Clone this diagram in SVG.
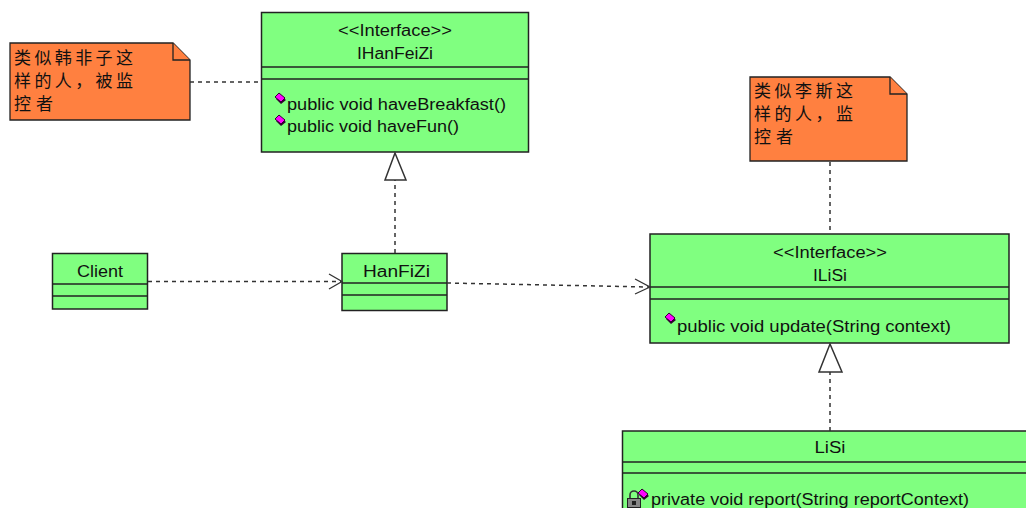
<svg xmlns="http://www.w3.org/2000/svg" width="1026" height="508" viewBox="0 0 1026 508">
<defs>
<style>
.cls{fill:#80FF80;stroke:#222;stroke-width:1.5}
.div{stroke:#222;stroke-width:1.5}
.note{fill:#FF8040;stroke:#222;stroke-width:1.3}
.t{font-family:"Liberation Sans",Arial,sans-serif;font-size:16px;fill:#111}
.c{text-anchor:middle}
.cjk{font-family:"Noto Sans CJK SC","Noto Sans CJK JP",sans-serif;font-size:17px;fill:#111}
.dash{fill:none;stroke:#333;stroke-width:1.5;stroke-dasharray:4 4}
.head{fill:none;stroke:#333;stroke-width:1.3}
.tri{fill:#fff;stroke:#333;stroke-width:1.5}
.dia{fill:#FF00FF;stroke:#300030;stroke-width:1}
.sh{fill:#300030}
</style>
<g id="diamond">
<polygon class="sh" points="-4,1 0,-3 6,2 1,6"/>
<polygon class="dia" points="-5,-1 -1,-5 5,0 1,4"/>
</g>
</defs>
<rect width="1026" height="508" fill="#fff"/>

<g id="note1">
<path class="note" d="M10,43 H173 L190,60 V120 H10 Z"/>
<path class="note" d="M173,43 V60 H190" fill="none"/>
<text class="cjk" x="14" y="64" textLength="119" lengthAdjust="spacing">类似韩非子这</text>
<text class="cjk" x="14" y="87" textLength="119" lengthAdjust="spacing">样的人，被监</text>
<text class="cjk" x="14" y="110" textLength="39" lengthAdjust="spacing">控者</text>
</g>

<g id="IHanFeiZi">
<rect class="cls" x="261.5" y="12.5" width="267" height="139.5"/>
<line class="div" x1="261.5" y1="67" x2="528.5" y2="67"/>
<line class="div" x1="261.5" y1="79" x2="528.5" y2="79"/>
<text class="t c" x="395" y="36" textLength="114" lengthAdjust="spacingAndGlyphs">&lt;&lt;Interface&gt;&gt;</text>
<text class="t c" x="395" y="59" textLength="76" lengthAdjust="spacingAndGlyphs">IHanFeiZi</text>
<use href="#diamond" x="280" y="98"/>
<text class="t" x="287" y="110" textLength="219" lengthAdjust="spacingAndGlyphs">public void haveBreakfast()</text>
<use href="#diamond" x="280" y="120"/>
<text class="t" x="287" y="132" textLength="172" lengthAdjust="spacingAndGlyphs">public void haveFun()</text>
</g>

<g id="Client">
<rect class="cls" x="52.5" y="253.5" width="95" height="55.5"/>
<line class="div" x1="52.5" y1="284" x2="147.5" y2="284"/>
<line class="div" x1="52.5" y1="296" x2="147.5" y2="296"/>
<text class="t c" x="100" y="277" textLength="46" lengthAdjust="spacingAndGlyphs">Client</text>
</g>

<g id="HanFiZi">
<rect class="cls" x="342" y="253.5" width="105" height="57"/>
<line class="div" x1="342" y1="283" x2="447" y2="283"/>
<line class="div" x1="342" y1="295" x2="447" y2="295"/>
<text class="t c" x="396.5" y="277" textLength="67" lengthAdjust="spacingAndGlyphs">HanFiZi</text>
</g>

<g id="note2">
<path class="note" d="M750,77 H890 L907,94 V161 H750 Z"/>
<path class="note" d="M890,77 V94 H907" fill="none"/>
<text class="cjk" x="754" y="97" textLength="99" lengthAdjust="spacing">类似李斯这</text>
<text class="cjk" x="754" y="120" textLength="99" lengthAdjust="spacing">样的人，监</text>
<text class="cjk" x="754" y="143" textLength="39" lengthAdjust="spacing">控者</text>
</g>

<g id="ILiSi">
<rect class="cls" x="650" y="234" width="359" height="109"/>
<line class="div" x1="650" y1="287" x2="1009" y2="287"/>
<line class="div" x1="650" y1="299" x2="1009" y2="299"/>
<text class="t c" x="830" y="258" textLength="114" lengthAdjust="spacingAndGlyphs">&lt;&lt;Interface&gt;&gt;</text>
<text class="t c" x="830" y="281" textLength="34" lengthAdjust="spacingAndGlyphs">ILiSi</text>
<use href="#diamond" x="670" y="318"/>
<text class="t" x="677" y="332" textLength="274" lengthAdjust="spacingAndGlyphs">public void update(String context)</text>
</g>

<g id="LiSi">
<rect class="cls" x="622.5" y="431" width="420" height="90"/>
<line class="div" x1="622.5" y1="462" x2="1042" y2="462"/>
<line class="div" x1="622.5" y1="473" x2="1042" y2="473"/>
<text class="t c" x="830" y="453" textLength="31" lengthAdjust="spacingAndGlyphs">LiSi</text>
<use href="#diamond" x="643" y="494"/>
<path d="M630,499 V495 A4,4 0 0 1 638,495 V499" fill="none" stroke="#333" stroke-width="1.6"/>
<rect x="627.5" y="498.5" width="13" height="9" fill="#888" stroke="#222" stroke-width="1"/>
<rect x="632" y="501" width="4" height="4" fill="#222"/>
<text class="t" x="651" y="505" textLength="318" lengthAdjust="spacingAndGlyphs">private void report(String reportContext)</text>
</g>

<g id="connectors">
<line class="dash" x1="190" y1="82" x2="261" y2="82"/>
<line class="dash" x1="395" y1="253" x2="395" y2="180"/>
<polygon class="tri" points="395,153 385,180 406,180"/>
<line class="dash" x1="148" y1="281.5" x2="341" y2="281.5"/>
<polyline class="head" points="329,274 342,281.5 329,289"/>
<line class="dash" x1="447" y1="283" x2="649" y2="287"/>
<polyline class="head" points="635,279 650,287 635,294"/>
<line class="dash" x1="830" y1="162" x2="830" y2="234"/>
<line class="dash" x1="830" y1="431" x2="830" y2="372"/>
<polygon class="tri" points="830,344 819,372 842,372"/>
</g>
</svg>
